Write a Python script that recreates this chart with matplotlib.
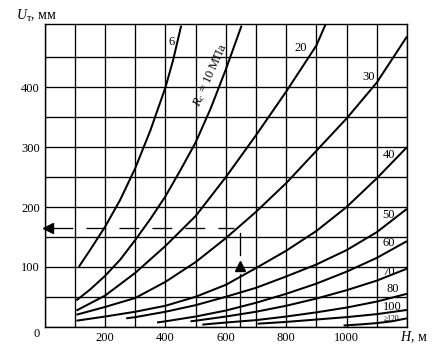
import matplotlib
matplotlib.use("Agg")
import matplotlib.pyplot as plt

plt.rcParams['font.family'] = ['Liberation Serif', 'DejaVu Serif']
plt.rcParams['mathtext.fontset'] = 'custom'
plt.rcParams['mathtext.rm'] = 'Liberation Serif'
plt.rcParams['mathtext.it'] = 'Liberation Serif:italic'

# ---- data (H, m  ->  U_t, mm) for each rock strength R_c, MPa ----
h_6 = [113, 150, 200, 250, 300, 350, 400, 425, 452]
u_6 = [100, 128, 167, 212, 265, 328, 400, 445, 503]

h_10 = [105, 150, 200, 250, 300, 350, 400, 450, 500, 550, 600, 652]
u_10 = [44, 62, 85, 112, 145, 180, 218, 262, 308, 365, 430, 503]

h_20 = [105, 200, 300, 400, 500, 600, 700, 800, 900, 930]
u_20 = [27, 52, 90, 135, 185, 250, 320, 393, 470, 505]

h_30 = [105, 200, 300, 400, 500, 600, 700, 800, 900, 1000, 1100, 1200]
u_30 = [20, 33, 48, 75, 108, 148, 192, 240, 294, 348, 408, 485]

h_40 = [105, 200, 300, 400, 500, 600, 700, 800, 900, 1000, 1100, 1200]
u_40 = [10, 17, 25, 35, 50, 70, 98, 127, 160, 200, 248, 300]

h_50 = [270, 300, 400, 500, 600, 700, 800, 900, 1000, 1100, 1200]
u_50 = [14, 16, 25, 36, 50, 65, 84, 104, 128, 158, 197]

h_60 = [372, 400, 500, 600, 700, 800, 900, 1000, 1100, 1200]
u_60 = [7, 9, 17, 27, 40, 55, 72, 92, 115, 143]

h_70 = [483, 500, 600, 700, 800, 900, 1000, 1100, 1200]
u_70 = [9, 10, 17, 25, 35, 47, 61, 77, 97]

h_80 = [522, 600, 700, 800, 900, 1000, 1100, 1200]
u_80 = [3.5, 7, 11, 17, 24, 32, 42, 55]

h_100 = [705, 800, 900, 1000, 1100, 1200]
u_100 = [5, 8, 12, 16, 21, 28]

h_120 = [990, 1050, 1100, 1150, 1200]
u_120 = [2, 4, 6, 9, 14]

curve_labels = ['6', '20', '30', '40', '50', '60', '70', '80', '100']
label_h = [419, 847, 1073, 1140, 1140, 1140, 1140, 1153, 1150]
label_u = [475, 465, 418, 287, 187, 140, 92, 63, 33]

x_ticks = [0, 100, 200, 300, 400, 500, 600, 700, 800, 900, 1000, 1100, 1200]
x_tick_labels = ['', '', '200', '', '400', '', '600', '', '800', '', '1000', '', '']
y_ticks = [0, 50, 100, 150, 200, 250, 300, 350, 400, 450]
y_tick_labels = ['', '', '100', '', '200', '', '300', '', '400', '']

# example path (dashed construction line)
ex_h = 648
ex_u = 165
ex_arrow_u = 101

fig = plt.figure(figsize=(4.35, 3.48), dpi=100)
ax = fig.add_axes([0.1028, 0.0612, 0.8328, 0.8684])
ax.set_xlim(0, 1200)
ax.set_ylim(0, 505)

ax.set_xticks(x_ticks)
ax.set_xticklabels(x_tick_labels, fontsize=9)
ax.set_yticks(y_ticks)
ax.set_yticklabels(y_tick_labels, fontsize=9)
ax.tick_params(length=0, pad=3.5)
ax.grid(True, color='black', linewidth=0.95)
ax.set_axisbelow(True)
for s in ax.spines.values():
    s.set_linewidth(1.0)
    s.set_color('black')

lw = 1.45
for h, u in [(h_6, u_6), (h_10, u_10), (h_20, u_20), (h_30, u_30), (h_40, u_40),
             (h_50, u_50), (h_60, u_60), (h_70, u_70), (h_80, u_80),
             (h_100, u_100), (h_120, u_120)]:
    ax.plot(h, u, color='black', linewidth=lw, solid_capstyle='butt')

for t, x, y in zip(curve_labels, label_h, label_u):
    ax.text(x, y, t, fontsize=9, ha='center', va='center')
ax.text(1150, 13, '≥120', fontsize=5.5, ha='center', va='center')
ax.text(551, 420, '$R_c$ = 10 МПа', fontsize=9, ha='center', va='center',
        rotation=66)

# construction line
ax.plot([27, ex_h - 20], [ex_u, ex_u], color='black', linewidth=0.95,
        linestyle=(0, (15, 10)))
ax.plot([10], [ex_u], marker='<', color='black', markersize=6.5, clip_on=False)
ax.plot([ex_h, ex_h], [157, 120], color='black', linewidth=0.95)
ax.plot([ex_h], [ex_arrow_u], marker='^', color='black', markersize=6.5)
ax.plot([ex_h, ex_h], [88, 0], color='black', linewidth=0.95)

ax.text(-27, -12, '0', fontsize=9, ha='center', va='center', clip_on=False)

fig.text(16 / 435, 1 - 16 / 348, '$U_{\\mathrm{т}}$, мм', fontsize=10,
         ha='left', va='center')
fig.text(400 / 435, 1 - 337 / 348, '$H$, м', fontsize=10, ha='left', va='center')

fig.savefig('out.png', dpi=100)
